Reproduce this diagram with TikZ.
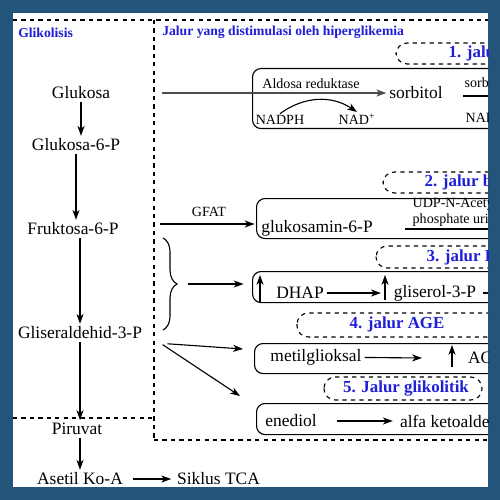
\documentclass[tikz,border=0pt]{standalone}
\usepackage{fontspec}
\setmainfont{Liberation Serif}
\usetikzlibrary{arrows.meta, decorations.pathreplacing}
\definecolor{FrameBlue}{HTML}{23557A}
\definecolor{LabelBlue}{HTML}{1F1FD6}

\begin{document}
\begin{tikzpicture}[x=0.25mm, y=-0.25mm,
    big/.style={font=\fontsize{12.4}{14}\selectfont, inner sep=2pt},
    small/.style={font=\fontsize{10}{11.5}\selectfont, inner sep=1pt},
    tag/.style={font=\fontsize{12}{14}\selectfont\bfseries, text=LabelBlue, inner sep=1pt},
    head/.style={font=\fontsize{9.7}{11}\selectfont\bfseries, text=LabelBlue, inner sep=0pt, anchor=west},
    arr/.style={-{Stealth[length=7pt, width=5pt, inset=2pt]}, line width=0.8pt},
    rowbox/.style={draw, line width=0.8pt, rounded corners=6pt, anchor=north west, minimum width=75mm},
    tagbox/.style={draw, dashed, line width=0.8pt, rounded corners=8pt},
    split/.style={dashed, line width=0.9pt}]

    % frame
    \fill[FrameBlue] (0,0) rectangle (500,500);
    \fill[white] (13,13) rectangle (488,487);
    \useasboundingbox (0,0) rectangle (500,500);

    \begin{scope}
        \clip (13,13) rectangle (488,487);

        % section borders
        \draw[split] (13,20) -- (488,20);
        \draw[split] (154,20) -- (154,440);
        \draw[split] (13,418) -- (154,418);
        \draw[split] (154,440) -- (488,440);
        \node[head] (glik) at (18,33) {Glikolisis};
        \node[head] (hyper) at (162,32) {Jalur yang distimulasi oleh hiperglikemia};

        % glycolysis column
        \node[big] (glukosa) at (81,93) {Glukosa};
        \node[big] (g6p) at (76,145) {Glukosa-6-P};
        \node[big] (f6p) at (73,229) {Fruktosa-6-P};
        \node[big] (gap) at (80,333) {Gliseraldehid-3-P};
        \node[big] (piruvat) at (77,429) {Piruvat};
        \node[big] (asetil) at (80,479) {Asetil Ko-A};
        \node[big, anchor=west] (tca) at (174,479) {Siklus TCA};

        \draw[arr] (glukosa) -- (glukosa |- g6p.north);
        \draw[arr] (g6p) -- (g6p |- f6p.north);
        \draw[arr] (f6p.south -| gap) -- (gap);
        \draw[arr] (gap) -- (gap |- piruvat.north);
        \draw[arr] (piruvat.south -| asetil) -- (asetil);
        \draw[arr, shorten <=5pt, shorten >=2pt] (asetil) -- (tca);

        % row boxes
        \node[rowbox, minimum height=15mm] (box1) at (252,68) {};
        \node[rowbox, minimum height=10mm] (box2) at (256,198) {};
        \node[rowbox, minimum height=7.75mm] (box3) at (252,271) {};
        \node[rowbox, minimum height=7.5mm] (box4) at (254,343) {};
        \node[rowbox, minimum height=7.75mm] (box5) at (256,403) {};

        % dashed tags
        \draw[tagbox] (396,43) rectangle (560,64);
        \draw[tagbox] (383,172) rectangle (560,193);
        \draw[tagbox] (376,246) rectangle (560,268);
        \draw[tagbox] (297,313) rectangle (560,337);
        \draw[tagbox] (324,377) rectangle (482,400);
        \node[tag, anchor=west] (lab1) at (447,53) {1. jalur poliol};
        \node[tag, anchor=west] (lab2) at (423,182) {2. jalur biosintesis};
        \node[tag, anchor=west] (lab3) at (425,257) {3. jalur PKC};
        \node[tag] (lab4) at (397,324) {4. jalur AGE};
        \node[tag] (lab5) at (406,389) {5. Jalur glikolitik};

        % 1. poliol
        \coordinate (polstart) at (162,93);
        \node[small] (aldosa) at (311,84) {Aldosa reduktase};
        \node[big] (sorbitol) at (416,93) {sorbitol};
        \draw[arr, draw=black!70] (polstart) -- (sorbitol);
        \node[small] (nadph) at (280,120) {NADPH};
        \node[small] (nad) at (357,119) {NAD\textsuperscript{+}};
        \draw[arr] (nadph.north) to[bend left=35] (nad.north);
        \node[small, anchor=west] (sdh) at (463,83) {sorbitol};
        \coordinate (sdhline) at (463,96);
        \draw[line width=0.8pt] (sdhline) -- ++(60,0);
        \node[small, anchor=west] (nadh) at (464,118) {NADH};

        % 2. heksosamin
        \coordinate (gfatstart) at (160,224);
        \node[small] (gfat) at (209,212) {GFAT};
        \draw[arr, shorten >=1pt] (gfatstart) -- (gfatstart -| box2.west);
        \node[big] (glukosamin) at (317,228) {glukosamin-6-P};
        \node[small, anchor=west, align=left] (udp) at (411,212) {UDP-N-Acetyl\\phosphate uridyl};
        \coordinate (udpline) at (405,229);
        \draw[line width=0.8pt] (udpline) -- ++(100,0);

        % 3. PKC
        \draw[decorate, decoration={brace, amplitude=10pt}, line width=0.8pt] (163,238) -- (163,330);
        \coordinate (bracetip) at (188,284);
        \draw[arr, shorten >=6pt] (bracetip) -- (bracetip -| box3.west);
        \coordinate (up1s) at (260,302);
        \coordinate (up1e) at (260,275);
        \draw[arr] (up1s) -- (up1e);
        \node[big] (dhap) at (300,293) {DHAP};
        \node[big] (gliserol) at (435,293) {gliserol-3-P};
        \draw[arr, shorten >=7pt] (dhap) -- (gliserol);
        \coordinate (up2s) at (385,300);
        \coordinate (up2e) at (385,275);
        \draw[arr] (up2s) -- (up2e);
        \draw[line width=0.8pt, shorten <=3pt] (gliserol) -- ++(80,0);

        % 4. AGE
        \coordinate (ageend) at (243,349);
        \coordinate (glyend) at (240,396);
        \draw[arr, shorten <=16pt] (gap.south east) -- (ageend);
        \draw[arr, shorten <=15pt] (gap.east) -- (glyend);
        \node[big] (metil) at (316,357) {metilglioksal};
        \coordinate (agestop) at (422,358);
        \draw[arr] (metil) -- (agestop);
        \coordinate (up3s) at (452,367);
        \coordinate (up3e) at (452,345);
        \draw[arr] (up3s) -- (up3e);
        \node[big, anchor=west] (age) at (465,358) {AGE};

        % 5. glikolitik
        \node[big] (enediol) at (291,421) {enediol};
        \node[big, anchor=west] (alfa) at (397,421) {alfa ketoaldehid};
        \draw[arr, shorten <=12pt, shorten >=3pt] (enediol) -- (alfa);
    \end{scope}
\end{tikzpicture}
\end{document}
